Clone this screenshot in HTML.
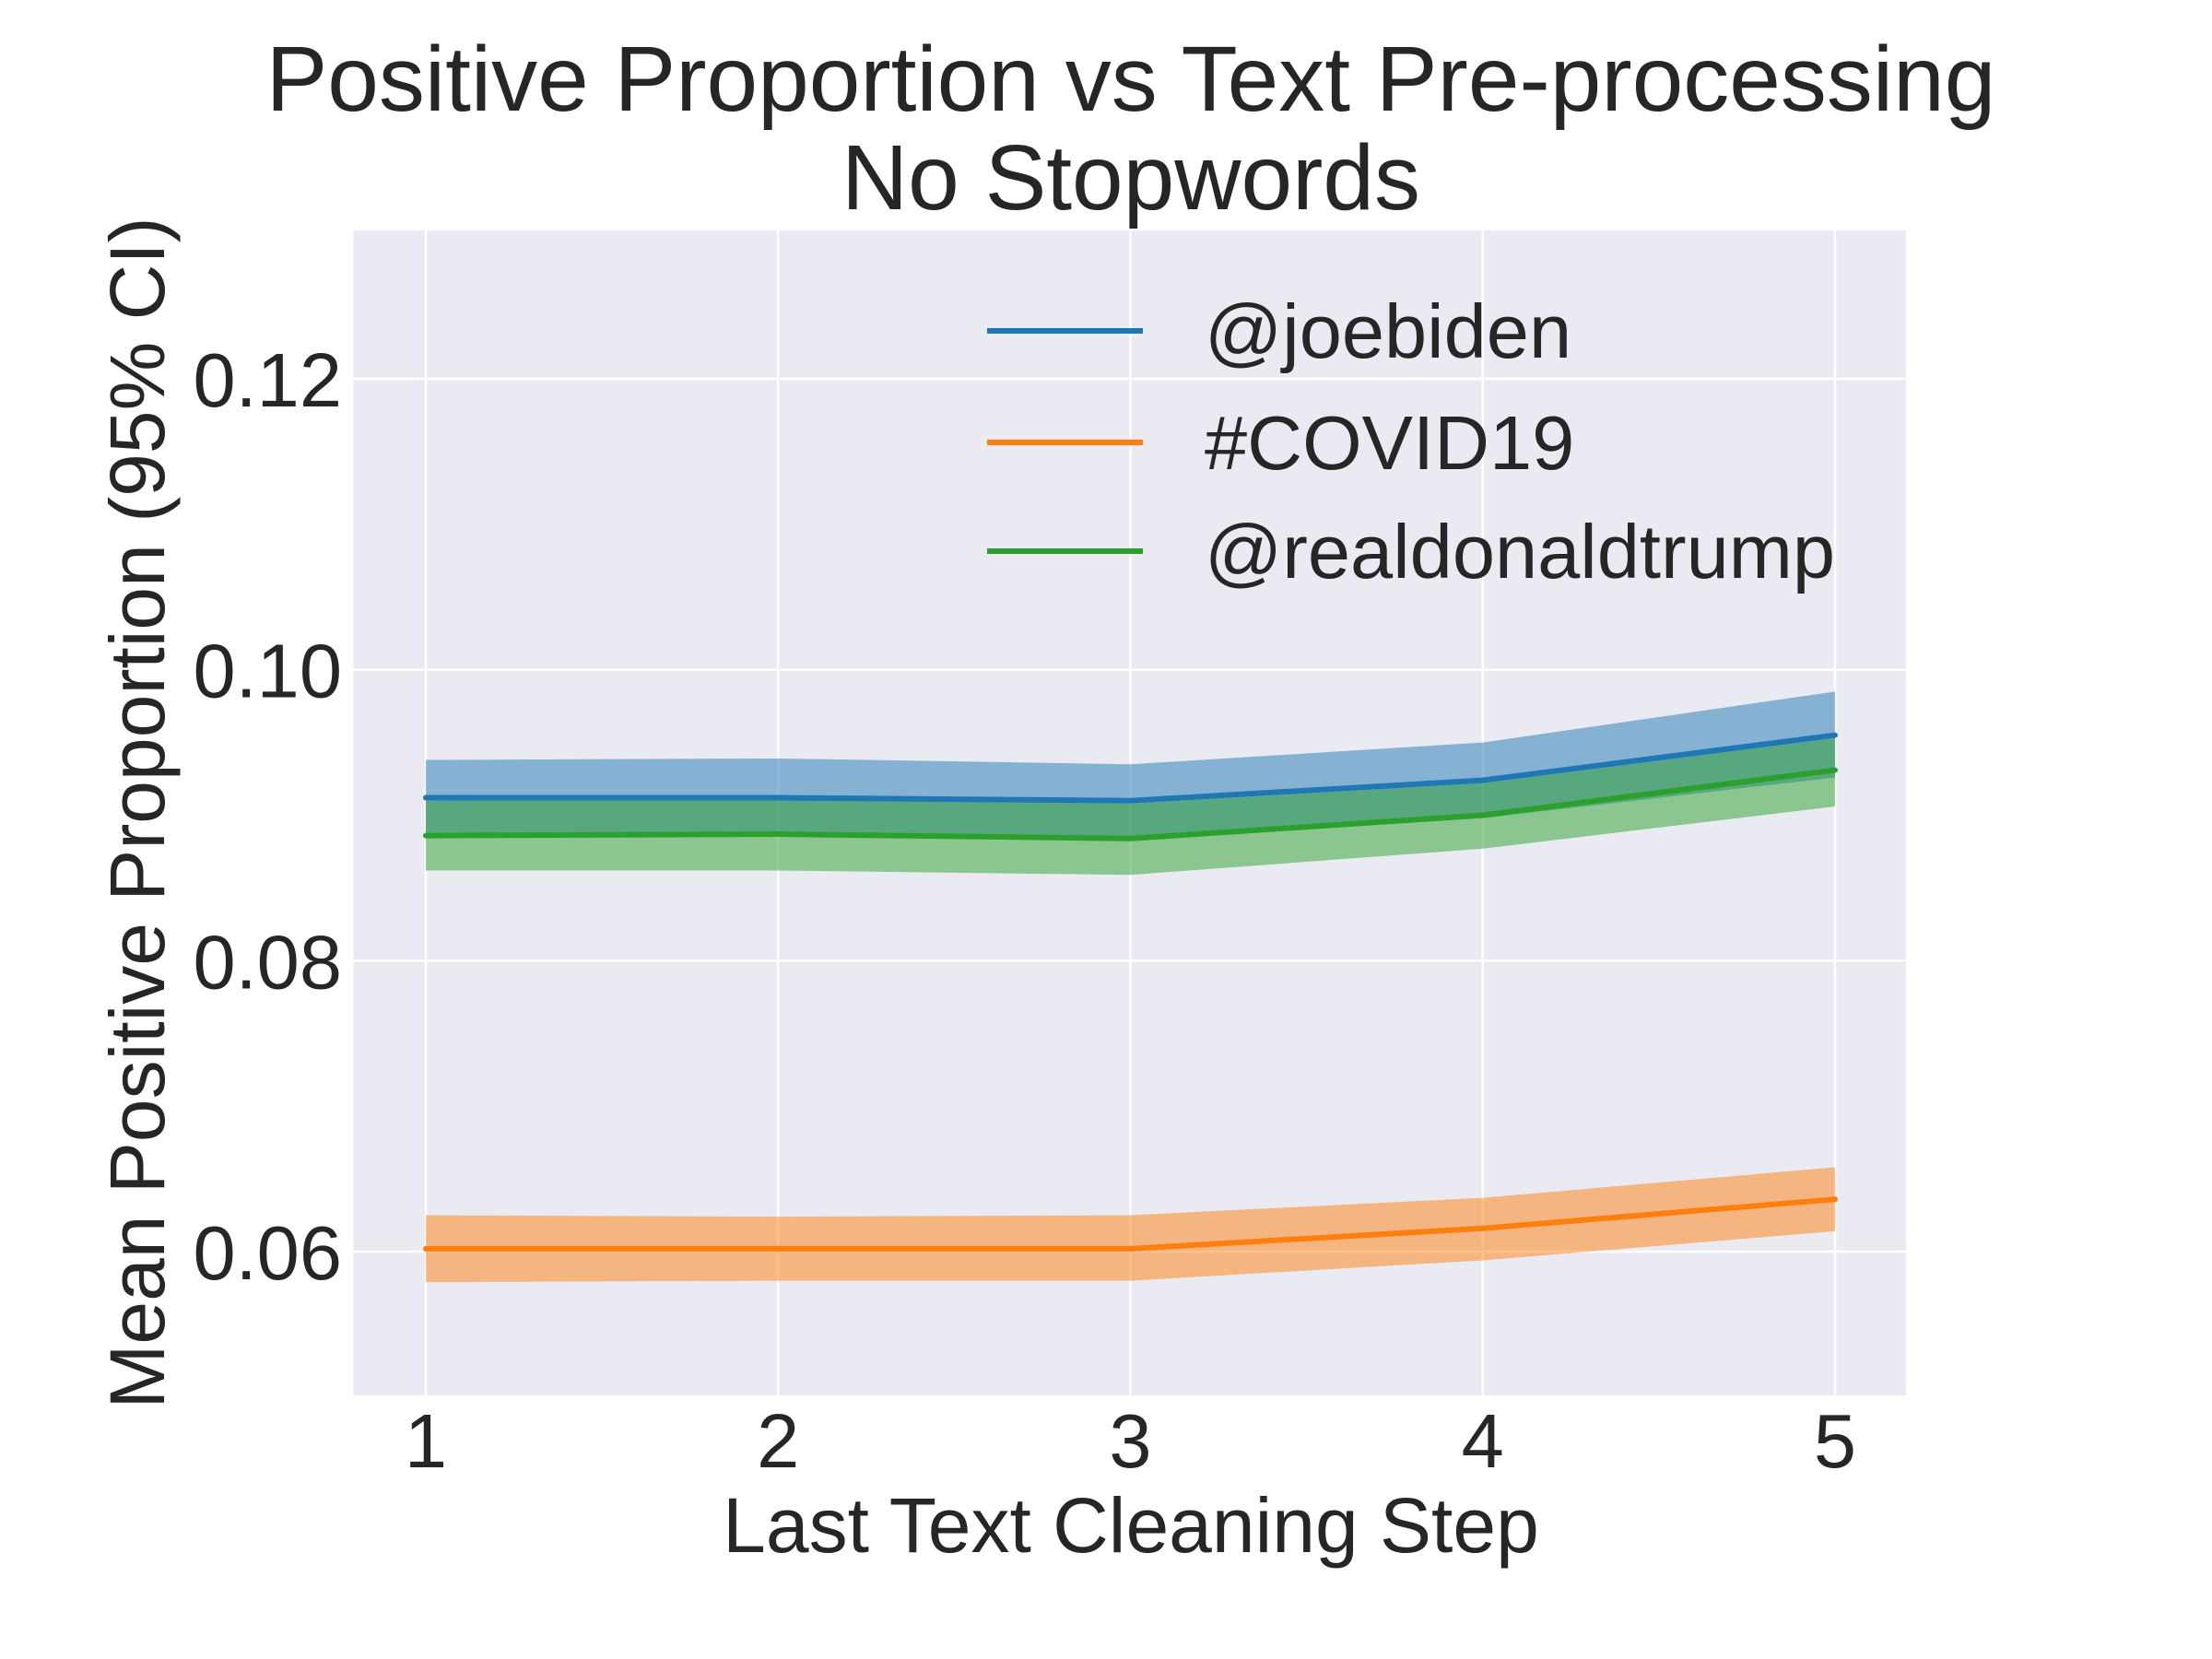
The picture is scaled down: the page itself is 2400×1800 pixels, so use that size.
<!DOCTYPE html>
<html><head><meta charset="utf-8"><style>
html,body{margin:0;padding:0;background:#fff;}
svg{display:block;font-family:"Liberation Sans",sans-serif;}
</style></head><body>
<svg id="chart" width="2400" height="1800" viewBox="0 0 2400 1800">
<rect x="0" y="0" width="2400" height="1800" fill="#fff"/>
<text x="1227" y="120" font-size="100" text-anchor="middle" fill="#262626">Positive Proportion vs Text Pre-processing</text>
<text x="1227" y="227" font-size="100" text-anchor="middle" fill="#262626">No Stopwords</text>
<rect x="383.5" y="250" width="1684.5" height="1264" fill="#eaeaf2"/>
<g id="grid"></g>
<g id="bands"></g>
<g id="lines"></g>
<g id="ticks"></g>
<text x="1227" y="1684" font-size="84" text-anchor="middle" fill="#262626">Last Text Cleaning Step</text>
<text transform="translate(178,882) rotate(-90)" font-size="84" text-anchor="middle" fill="#262626">Mean Positive Proportion (95% CI)</text>
<g id="legend"></g>
</svg>
<script>
const steps = [1, 2, 3, 4, 5];
const seriesNames = ["@joebiden", "#COVID19", "@realdonaldtrump"];
const bidenMean = [0.0912, 0.0912, 0.0910, 0.0924, 0.0955];
const bidenUpper = [0.0938, 0.0939, 0.0935, 0.0950, 0.0985];
const bidenLower = [0.0886, 0.0886, 0.0885, 0.0898, 0.0926];
const covidMean = [0.0602, 0.0602, 0.0602, 0.0616, 0.0636];
const covidUpper = [0.0625, 0.0624, 0.0625, 0.0637, 0.0658];
const covidLower = [0.0579, 0.0580, 0.0580, 0.0594, 0.0614];
const trumpMean = [0.0886, 0.0887, 0.0884, 0.0900, 0.0931];
const trumpUpper = [0.0910, 0.0911, 0.0908, 0.0922, 0.0953];
const trumpLower = [0.0862, 0.0862, 0.0859, 0.0877, 0.0906];
const yTicks = [0.06, 0.08, 0.10, 0.12];
const yTickLabels = ["0.06", "0.08", "0.10", "0.12"];
const xTickLabels = ["1", "2", "3", "4", "5"];

const NS = "http://www.w3.org/2000/svg";
function xs(v){ return 462 + (v - 1) * (1991 - 462) / 4; }
function ys(v){ return 1358 - (v - 0.06) * (1358 - 411) / 0.06; }
function mk(tag, attrs, parent){ const e = document.createElementNS(NS, tag); for (const k in attrs) e.setAttribute(k, attrs[k]); parent.appendChild(e); return e; }

const grid = document.getElementById('grid');
steps.forEach((s, i) => {
  const l = mk('line', {x1: xs(s), x2: xs(s), y1: 250, y2: 1514, stroke: '#fff', 'stroke-width': 2.5}, grid);
  
  
});
yTicks.forEach(v => {
  const l = mk('line', {x1: 383.5, x2: 2068, y1: ys(v), y2: ys(v), stroke: '#fff', 'stroke-width': 2.5}, grid);
  
  
});

const ticks = document.getElementById('ticks');
xTickLabels.forEach((t, i) => {
  const e = mk('text', {x: xs(steps[i]), y: 1592, 'font-size': 83, 'text-anchor': 'middle', fill: '#262626'}, ticks);
  e.textContent = t;
  
  
});
yTicks.forEach((v, i) => {
  const e = mk('text', {x: 371, y: ys(v) + 30, 'font-size': 83, 'text-anchor': 'end', fill: '#262626'}, ticks);
  e.textContent = yTickLabels[i];
  
  
});

const colors = ['#1f77b4', '#ff7f0e', '#2ca02c'];
const means = [bidenMean, covidMean, trumpMean];
const uppers = [bidenUpper, covidUpper, trumpUpper];
const lowers = [bidenLower, covidLower, trumpLower];
const bandNames = ['band-joebiden', 'band-covid19', 'band-realdonaldtrump'];
const lineNames = ['line-joebiden', 'line-covid19', 'line-realdonaldtrump'];
const bands = document.getElementById('bands');
const lines = document.getElementById('lines');
for (let k = 0; k < 3; k++) {
  let d = '';
  steps.forEach((s, i) => { d += (i ? 'L' : 'M') + xs(s) + ',' + ys(uppers[k][i]); });
  for (let i = steps.length - 1; i >= 0; i--) d += 'L' + xs(steps[i]) + ',' + ys(lowers[k][i]);
  const b = mk('path', {d: d + 'Z', fill: colors[k], 'fill-opacity': 0.5}, bands);
  
  
}
for (let k = 0; k < 3; k++) {
  const pts = steps.map((s, i) => xs(s) + ',' + ys(means[k][i])).join(' ');
  const p = mk('polyline', {points: pts, fill: 'none', stroke: colors[k], 'stroke-width': 6, 'stroke-linecap': 'round'}, lines);
  
  
}

const legend = document.getElementById('legend');
const legendYs = [359, 480, 598];
for (let k = 0; k < 3; k++) {
  const g = mk('g', {}, legend);
  
  
  mk('line', {x1: 1071, x2: 1240, y1: legendYs[k], y2: legendYs[k], stroke: colors[k], 'stroke-width': 6}, g);
  const t = mk('text', {x: 1307, y: legendYs[k] + 29, 'font-size': 83, fill: '#262626'}, g);
  t.textContent = seriesNames[k];
}
</script>
</body></html>
